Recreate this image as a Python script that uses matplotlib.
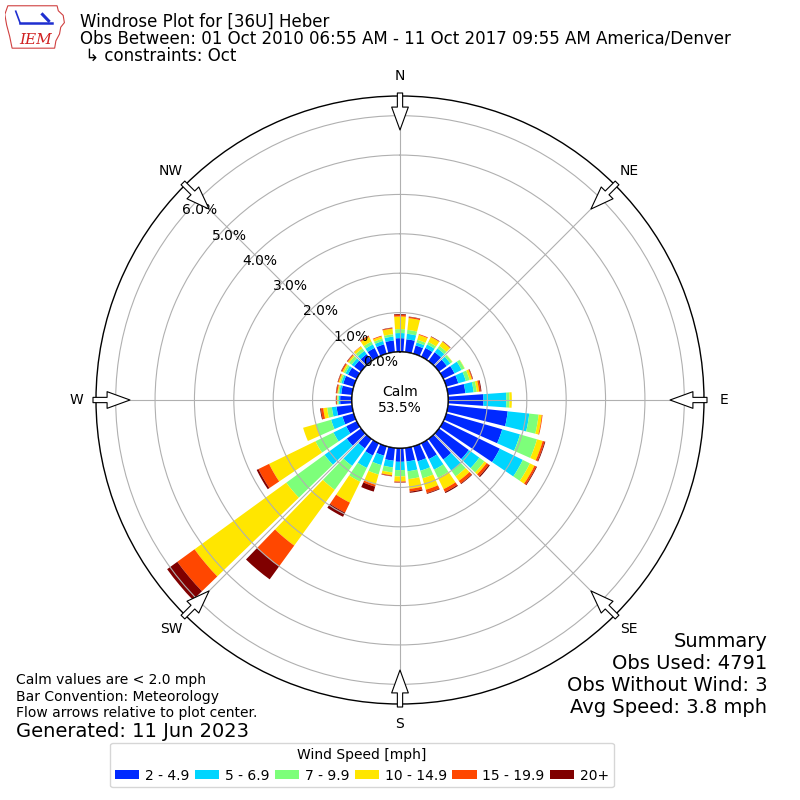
import numpy as np
import matplotlib
matplotlib.use('Agg')
import matplotlib.pyplot as plt
from matplotlib.patches import Circle, Polygon

# direction bins (degrees, meteorological "from" direction)
directions = np.arange(0, 360, 10)
speed_labels = ['2 - 4.9', '5 - 6.9', '7 - 9.9', '10 - 14.9', '15 - 19.9', '20+']

# percent of observations in each speed bin, per direction (0, 10, ... 350)
spd_2_5 = [.35, .33, .22, .25, .28, .25, .32, .32, .45, .90, 1.53, 1.48,
           1.60, .94, .65, .45, .40, .35, .35, .33, .25, .35, .30, .45,
           .30, .30, .40, .30, .28, .28, .25, .22, .22, .25, .25, .30]
spd_5_7 = [.13, .14, .08, .10, .12, .11, .20, .20, .21, .58, .55, .47,
           .65, .33, .35, .30, .25, .25, .21, .17, .25, .35, .55, .70,
           .36, .30, .12, .04, .05, .05, .07, .08, .10, .10, .09, .10]
spd_7_10 = [.10, .10, .07, .07, .08, .06, .08, .10, .08, .08, .24, .45,
            .20, .16, .18, .23, .20, .20, .16, .13, .25, .39, .75, 1.20,
            .51, .40, .12, .03, .03, .04, .05, .08, .08, .08, .06, .06]
spd_10_15 = [.32, .30, .13, .14, .13, .01, .01, .06, .06, .06, .08, .15,
             .13, .07, .14, .32, .30, .25, .13, .07, .27, .59, 1.75, 2.88,
             1.31, .34, .10, .01, .02, .03, .04, .04, .06, .13, .06, .14]
spd_15_20 = [.04, .03, .02, .01, .01, 0, 0, .02, .04, 0, .02, .05,
             .05, .07, .08, .08, .09, .07, .02, .02, .05, .28, .65, .54,
             .30, 0, .06, .02, .03, .02, .03, .02, .01, .03, .02, .02]
spd_20p = [.02, .01, 0, .01, .01, 0, 0, .01, .02, 0, 0, .02,
           .02, .03, .02, .03, .02, .03, .01, .01, .13, .12, .41, .32,
           .05, 0, .02, .01, .01, .01, .01, .01, 0, .01, 0, .01]
speed_bins = [spd_2_5, spd_5_7, spd_7_10, spd_10_15, spd_15_20, spd_20p]
colors = plt.cm.jet(np.linspace(0, 1, 7)[1:])

calm_pct = 53.5
obs_used = 4791
obs_no_wind = 3
avg_speed = 3.8
ring_ticks = [0, 1, 2, 3, 4, 5, 6]
compass = ['N', 'NE', 'E', 'SE', 'S', 'SW', 'W', 'NW']

fig = plt.figure(figsize=(8, 8), dpi=100)
ax = fig.add_axes([0.12, 0.12, 0.76, 0.76], projection='polar')
ax.set_theta_zero_location('N')
ax.set_theta_direction(-1)
rmax = 6.5
rorigin = -1.22
ax.set_ylim(0, rmax)
ax.set_rorigin(rorigin)


def px_to_r(px):
    # radius in pixels from the centre -> data radius
    return rorigin + px / 304.0 * (rmax - rorigin)


theta = np.deg2rad(directions)
bottom = np.zeros(len(directions))
handles = []
for vals, color, label in zip(speed_bins, colors, speed_labels):
    b = ax.bar(theta, vals, width=np.deg2rad(10) * 0.8, bottom=bottom,
               color=color, label=label, linewidth=0)
    handles.append(b)
    bottom = bottom + np.array(vals)

ax.set_yticks(ring_ticks)
ax.set_yticklabels(['%.1f%%' % t for t in ring_ticks], fontsize=10)
ax.set_rlabel_position(310)
ax.set_xticks(np.deg2rad(np.arange(0, 360, 45)))
ax.set_xticklabels([])
ax.grid(True, color='#b0b0b0', lw=0.8)
ax.spines['polar'].set_linewidth(1.0)

# calm circle
calm_frac = 0.5 * (-rorigin) / (rmax - rorigin)
ax.add_patch(Circle((0.5, 0.5), calm_frac, transform=ax.transAxes,
                    facecolor='white', edgecolor='black', lw=1.2, zorder=3))
ax.text(0.5, 0.5, 'Calm\n%.1f%%' % calm_pct, transform=ax.transAxes,
        ha='center', va='center', fontsize=10, zorder=4)

# compass labels and inward flow arrows
for ang, lab in zip(np.arange(0, 360, 45), compass):
    t = np.deg2rad(ang)
    ax.text(t, px_to_r(324), lab, ha='center', va='center', fontsize=10,
            clip_on=False)
    ax.annotate('', xy=(t, px_to_r(270)), xytext=(t, px_to_r(307)),
                arrowprops=dict(arrowstyle='simple,head_length=1.65,head_width=1.2,tail_width=0.38',
                                fc='white', ec='black', lw=0.8,
                                mutation_scale=10, shrinkA=0, shrinkB=0),
                annotation_clip=False, zorder=6)

# titles
fig.text(0.1, 1 - 26.7 / 800, 'Windrose Plot for [36U] Heber', fontsize=12, va='baseline')
fig.text(0.1, 1 - 43.3 / 800,
         'Obs Between: 01 Oct 2010 06:55 AM - 11 Oct 2017 09:55 AM America/Denver',
         fontsize=12, va='baseline')
fig.text(0.1, 1 - 60.5 / 800, ' \u21b3 constraints: Oct', fontsize=12, va='baseline')

# footnotes
fig.text(0.02, 1 - 684 / 800, 'Calm values are < 2.0 mph', fontsize=10, va='baseline')
fig.text(0.02, 1 - 700.5 / 800, 'Bar Convention: Meteorology', fontsize=10, va='baseline')
fig.text(0.02, 1 - 717 / 800, 'Flow arrows relative to plot center.', fontsize=10, va='baseline')
fig.text(0.02, 1 - 737 / 800, 'Generated: 11 Jun 2023', fontsize=14, va='baseline')

summary = ['Summary', 'Obs Used: %s' % obs_used,
           'Obs Without Wind: %s' % obs_no_wind, 'Avg Speed: %.1f mph' % avg_speed]
for i, line in enumerate(summary):
    fig.text(0.959, 1 - (647 + 22 * i) / 800, line, fontsize=14,
             ha='right', va='baseline')

fig.legend(handles, speed_labels, loc='center', bbox_to_anchor=(0.4525, 0.0437),
           ncol=6, title='Wind Speed [mph]', fontsize=10, title_fontsize=10,
           handlelength=1.75, handleheight=0.6, handletextpad=0.4,
           columnspacing=0.4, borderpad=0.35, borderaxespad=0.3)

# IEM logo (rough)
lax = fig.add_axes([0.006, 1 - 50 / 800, 0.076, 0.057])
lax.set_xlim(0, 1)
lax.set_ylim(0, 1)
lax.axis('off')
iowa = [(0.05, 0.97), (0.86, 0.97), (0.88, 0.86), (0.96, 0.76), (0.98, 0.6),
        (0.92, 0.5), (0.9, 0.35), (0.84, 0.2), (0.82, 0.04), (0.12, 0.04),
        (0.08, 0.3), (0.03, 0.55), (0.0, 0.78)]
lax.add_patch(Polygon(iowa, closed=True, fill=False, ec='#d04040', lw=0.8))
lax.plot([0.25, 0.78], [0.6, 0.6], color='#1f2fd0', lw=1.8)
lax.plot([0.25, 0.18], [0.6, 0.85], color='#1f2fd0', lw=1.2)
lax.plot([0.62, 0.72], [0.78, 0.64], color='#1f2fd0', lw=2.2)
lax.text(0.5, 0.22, 'IEM', color='#d02020', fontsize=11, family='serif',
         style='italic', ha='center', va='center')

fig.savefig('out.png', dpi=100)
